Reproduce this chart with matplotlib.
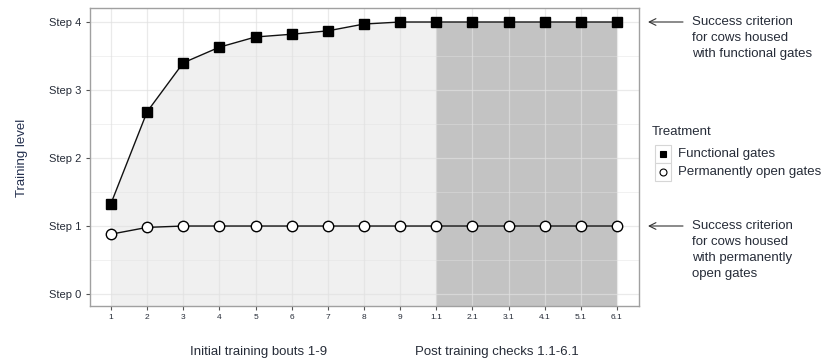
import matplotlib.pyplot as plt
from matplotlib.lines import Line2D
from matplotlib.patches import Rectangle
import numpy as np

# training bouts (1-9) then post training checks (1.1-6.1)
bouts = ["1", "2", "3", "4", "5", "6", "7", "8", "9",
         "1.1", "2.1", "3.1", "4.1", "5.1", "6.1"]
functional = [1.33, 2.68, 3.40, 3.63, 3.78, 3.82, 3.87, 3.97, 4.0,
              4.0, 4.0, 4.0, 4.0, 4.0, 4.0]
open_gates = [0.88, 0.98, 1.0, 1.0, 1.0, 1.0, 1.0, 1.0, 1.0,
              1.0, 1.0, 1.0, 1.0, 1.0, 1.0]
step_labels = ["Step 0", "Step 1", "Step 2", "Step 3", "Step 4"]
n_initial = 9

text_col = "#262c38"
plt.rcParams["font.family"] = ["Liberation Sans", "DejaVu Sans"]

fig = plt.figure(figsize=(8.27, 3.62), dpi=100)
ax = fig.add_axes([90 / 827, 56 / 362, 549 / 827, 298 / 362])

x = np.arange(len(bouts))
func = np.array(functional)

# shaded areas under the functional-gates curve
ax.fill_between(x[:n_initial + 1], -1, func[:n_initial + 1], color="#f0f0f0", lw=0, zorder=1)
ax.fill_between(x[n_initial:], -1, func[n_initial:], color="#c3c3c3", lw=0, zorder=1)

# grid above the fills
ax.set_axisbelow("line")
ax.set_yticks(range(5))
ax.set_yticks(np.arange(0.5, 4, 1), minor=True)
ax.set_xticks(x)
ax.grid(True, which="major", color="#e1e1e1", alpha=0.67, lw=0.9)
ax.grid(True, which="minor", axis="y", color="#e1e1e1", alpha=0.67, lw=0.5)

ax.plot(x, open_gates, color="#111111", lw=1.0, marker="o", ms=7.5,
        mfc="white", mec="black", mew=1.0, zorder=3)
ax.plot(x, functional, color="#111111", lw=1.0, marker="s", ms=7,
        mfc="black", mec="black", zorder=3)

ax.set_xlim(-0.58, 14.61)
ax.set_ylim(-0.176, 4.206)
ax.set_yticklabels(step_labels, fontsize=8, color=text_col)
ax.set_xticklabels(bouts, fontsize=6, color=text_col)
ax.tick_params(which="major", length=3, width=0.8, color="#555555", pad=3)
ax.tick_params(which="minor", length=0)
for s in ax.spines.values():
    s.set_color("#a0a0a0")
    s.set_linewidth(1.0)

fig.text(22 / 827, 1 - 158 / 362, "Training level", rotation=90, ha="center",
         va="center", fontsize=9.5, color="#24304e")
fig.text(259 / 827, 1 - 352 / 362, "Initial training bouts 1-9", ha="center",
         va="center", fontsize=9.5, color=text_col)
fig.text(497 / 827, 1 - 352 / 362, "Post training checks 1.1-6.1", ha="center",
         va="center", fontsize=9.5, color=text_col)

# success criterion annotations
notes = [(22, ["Success criterion", "for cows housed", "with functional gates"]),
         (226, ["Success criterion", "for cows housed", "with permanently", "open gates"])]
for ypx, lines in notes:
    yf = 1 - ypx / 362
    ax.annotate("", xy=(648 / 827, yf), xytext=(683 / 827, yf),
                xycoords="figure fraction", textcoords="figure fraction",
                arrowprops=dict(arrowstyle="->", lw=0.8, color="#333333",
                                shrinkA=0, shrinkB=0, mutation_scale=12))
    for i, t in enumerate(lines):
        fig.text(692 / 827, 1 - (ypx + 16 * i) / 362, t, ha="left", va="center",
                 fontsize=9.5, color=text_col)

# legend
fig.text(652 / 827, 1 - 132 / 362, "Treatment", ha="left", va="center",
         fontsize=9.5, color=text_col)
for i, (label, mk, fc) in enumerate([("Functional gates", "s", "black"),
                                     ("Permanently open gates", "o", "white")]):
    top = 145 + 18 * i
    fig.add_artist(Rectangle((655 / 827, 1 - (top + 18) / 362), 16 / 827, 18 / 362,
                             transform=fig.transFigure, fc="white", ec="#d6d6d6", lw=0.8))
    fig.add_artist(Line2D([663 / 827], [1 - (top + 9) / 362], transform=fig.transFigure,
                          marker=mk, ms=4.5 if mk == "s" else 5, mfc=fc, mec="black",
                          mew=0.8, ls="none"))
    fig.text(678 / 827, 1 - (top + 9) / 362, label, ha="left", va="center",
             fontsize=9.5, color=text_col)

fig.savefig("out.png", dpi=100)
